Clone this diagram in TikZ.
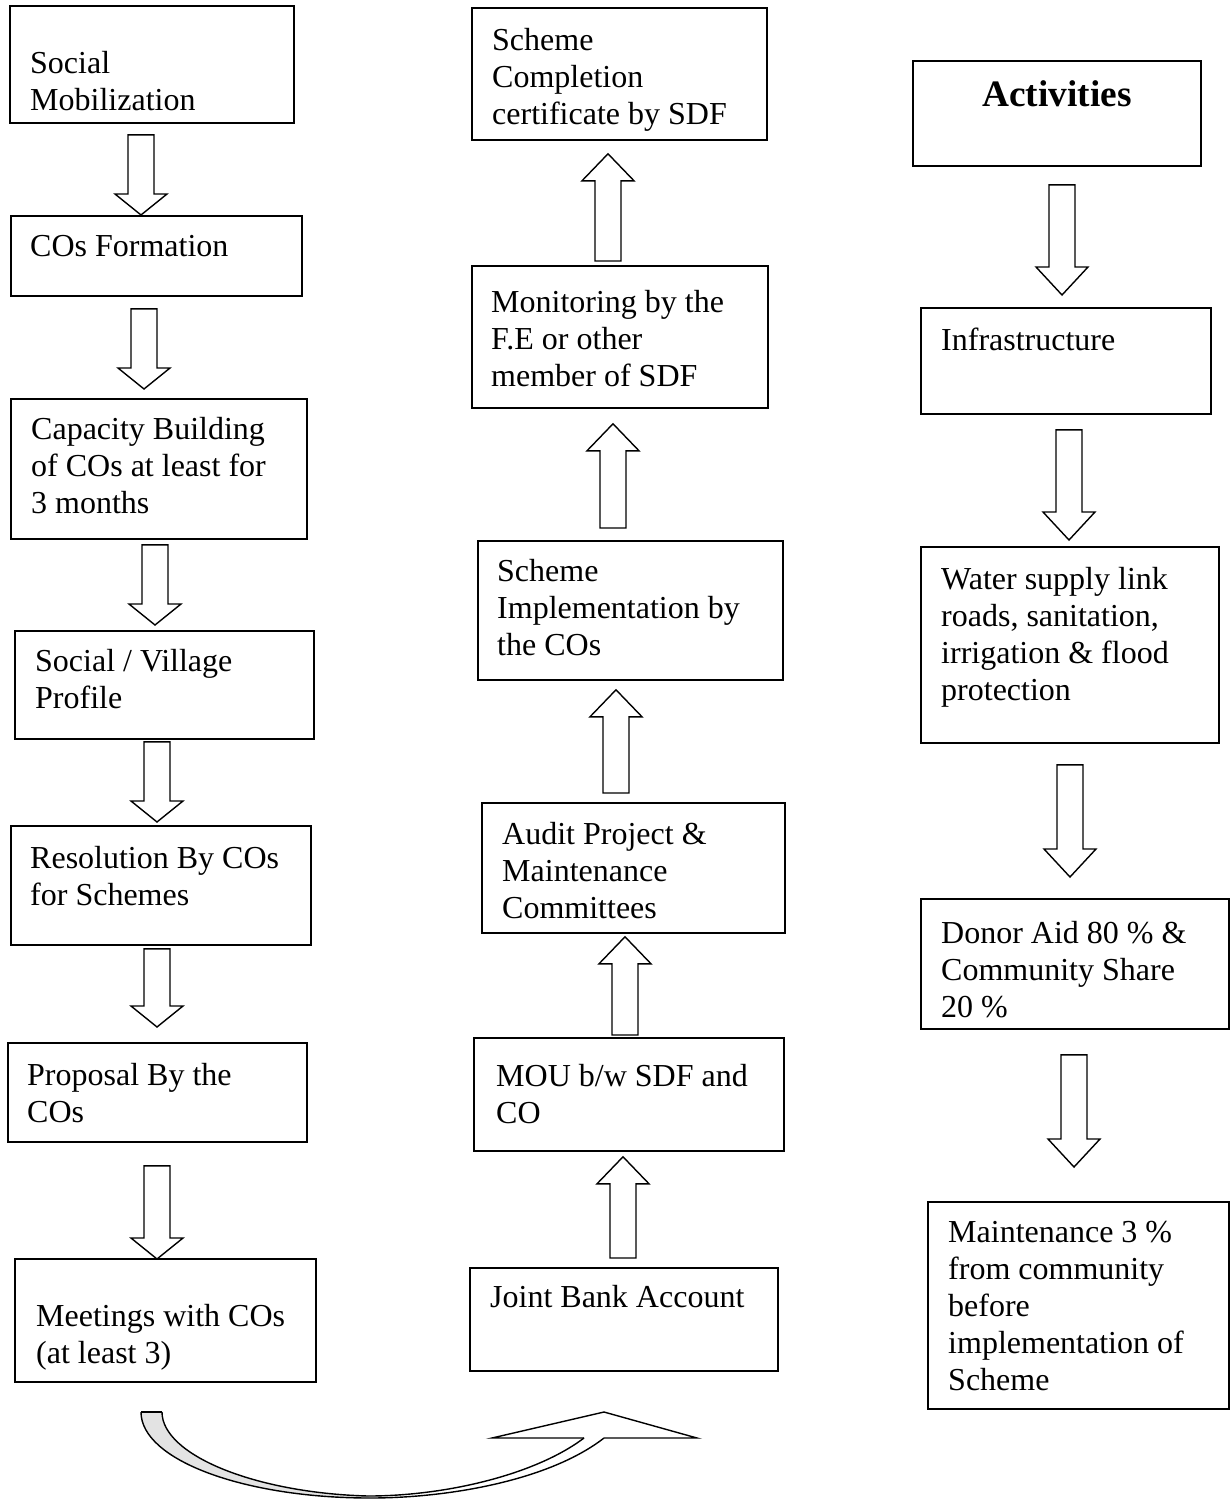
\documentclass[tikz,border=0pt]{standalone}
\usepackage{fontspec}
\setmainfont{Liberation Serif}
\usetikzlibrary{calc}

\tikzset{
  box/.style={draw, line width=1.8pt, anchor=north west, inner sep=0pt},
  txt/.style={anchor=north west, align=left, inner sep=0pt, font=\fontsize{32}{37}\selectfont},
  flow/.style={draw, line width=1.4pt, line join=miter},
  curve/.style={line width=1.4pt, line join=miter}
}

% hollow block arrow: #1 tail point, #2 tip point, #3 head length (signed)
\newcommand{\flowarrow}[3]{%
  \draw[flow] let \p1=#1, \p2=#2 in
    (\x2-13pt,\y1) -- (\x2-13pt,\y2#3) -- (\x2-26pt,\y2#3) -- (\x2,\y2)
    -- (\x2+26pt,\y2#3) -- (\x2+13pt,\y2#3) -- (\x2+13pt,\y1) -- cycle;}

\begin{document}
\begin{tikzpicture}[x=1pt, y=-1pt]
  \useasboundingbox (0,0) rectangle (1231,1499);
  % left column
  \node[box, minimum width=284, minimum height=117] (somob) at (9,5) {};
  \node[txt] (somob-t) at (30,51) {Social\\Mobilization};
  \node[box, minimum width=291, minimum height=80] (cosf) at (10,215) {};
  \node[txt] (cosf-t) at (30,235) {COs Formation};
  \node[box, minimum width=296, minimum height=140] (capb) at (10,398) {};
  \node[txt] (capb-t) at (31,417) {Capacity Building\\of COs at least for\\3 months};
  \node[box, minimum width=299, minimum height=108] (vprof) at (14,630) {};
  \node[txt] (vprof-t) at (35,649) {Social / Village\\Profile};
  \node[box, minimum width=300, minimum height=119] (resol) at (10,825) {};
  \node[txt] (resol-t) at (30,846) {Resolution By COs\\for Schemes};
  \node[box, minimum width=299, minimum height=99] (prop) at (7,1042) {};
  \node[txt] (prop-t) at (27,1063) {Proposal By the\\COs};
  \node[box, minimum width=301, minimum height=123] (meet) at (14,1258) {};
  \node[txt] (meet-t) at (36,1304) {Meetings with COs\\(at least 3)};

  % middle column
  \node[box, minimum width=295, minimum height=132] (comp) at (471,7) {};
  \node[txt] (comp-t) at (492,28) {Scheme\\Completion\\certificate by SDF};
  \node[box, minimum width=296, minimum height=142] (moni) at (471,265) {};
  \node[txt] (moni-t) at (491,290) {Monitoring by the\\F.E or other\\member of SDF};
  \node[box, minimum width=305, minimum height=139] (impl) at (477,540) {};
  \node[txt] (impl-t) at (497,559) {Scheme\\Implementation by\\the COs};
  \node[box, minimum width=303, minimum height=130] (audit) at (481,802) {};
  \node[txt] (audit-t) at (502,822) {Audit Project \&\\Maintenance\\Committees};
  \node[box, minimum width=310, minimum height=113] (mou) at (473,1037) {};
  \node[txt] (mou-t) at (496,1064) {MOU b/w SDF and\\CO};
  \node[box, minimum width=308, minimum height=103] (jba) at (469,1267) {};
  \node[txt] (jba-t) at (490,1285) {Joint Bank Account};

  % right column
  \node[box, minimum width=288, minimum height=105] (act) at (912,60) {};
  \node[font=\fontsize{37.3}{43}\selectfont\bfseries, inner sep=0pt] (act-t) at (1057,94) {Activities};
  \node[box, minimum width=290, minimum height=106] (infra) at (920,307) {};
  \node[txt] (infra-t) at (941,328) {Infrastructure};
  \node[box, minimum width=298, minimum height=196] (water) at (920,546) {};
  \node[txt] (water-t) at (941,567) {Water supply link\\roads, sanitation,\\irrigation \& flood\\protection};
  \node[box, minimum width=308, minimum height=130] (donor) at (920,898) {};
  \node[txt] (donor-t) at (941,921) {Donor Aid 80 \% \&\\Community Share\\20 \%};
  \node[box, minimum width=301, minimum height=207] (maint) at (927,1201) {};
  \node[txt] (maint-t) at (948,1221) {Maintenance 3 \%\\from community\\before\\implementation of\\Scheme};

  % arrows down the left column
  \flowarrow{($(somob.south)+(0,11)$)}{($(cosf.north west)+(131,0)$)}{+21pt}
  \flowarrow{($(cosf.south)+(0,12)$)}{($(capb.north west)+(134,-9)$)}{+21pt}
  \flowarrow{($(capb.south)+(0,5)$)}{($(vprof.north west)+(141,-5)$)}{+21pt}
  \flowarrow{($(vprof.south)+(0,2)$)}{($(resol.north west)+(147,-3)$)}{+21pt}
  \flowarrow{($(resol.south)+(0,3)$)}{($(prop.north west)+(150,-15)$)}{+21pt}
  \flowarrow{($(prop.south)+(0,23)$)}{($(meet.north west)+(143,1)$)}{+21pt}

  % arrows up the middle column
  \flowarrow{($(moni.north)+(0,-4)$)}{($(comp.south west)+(137,13)$)}{-27pt}
  \flowarrow{($(impl.north)+(0,-12)$)}{($(moni.south west)+(142,15)$)}{-27pt}
  \flowarrow{($(audit.north)+(0,-9)$)}{($(impl.south west)+(139,9)$)}{-27pt}
  \flowarrow{($(mou.north)+(0,-2)$)}{($(audit.south west)+(144,3)$)}{-27pt}
  \flowarrow{($(jba.north)+(0,-9)$)}{($(mou.south west)+(150,5)$)}{-27pt}

  % arrows down the right column
  \flowarrow{($(act.south)+(0,18)$)}{($(infra.north west)+(142,-12)$)}{+28pt}
  \flowarrow{($(infra.south)+(0,15)$)}{($(water.north west)+(149,-6)$)}{+28pt}
  \flowarrow{($(water.south)+(0,21)$)}{($(donor.north west)+(150,-21)$)}{+28pt}
  \flowarrow{($(donor.south)+(0,25)$)}{($(maint.north west)+(147,-34)$)}{+28pt}

  % curved arrow from left column to middle column
  \coordinate (ctail) at (141,1412);
  \coordinate (chead) at (604,1412);
  \fill[gray!22] (ctail) -- (162,1412) .. controls (162,1455) and (255,1493) .. (368,1496)
    -- (370,1498) .. controls (244,1498) and (141,1460) .. (ctail) -- cycle;
  \draw[curve] (ctail) -- (162,1412);
  \draw[curve] (ctail) .. controls (141,1460) and (244,1498) .. (370,1498)
    .. controls (450,1498) and (550,1480) .. (604,1438);
  \draw[curve] (162,1412) .. controls (162,1455) and (255,1493) .. (368,1496)
    .. controls (445,1496) and (535,1475) .. (584,1438);
  \draw[curve] (584,1438) -- (492,1438) -- (chead) -- (697,1438) -- (604,1438);
\end{tikzpicture}
\end{document}
